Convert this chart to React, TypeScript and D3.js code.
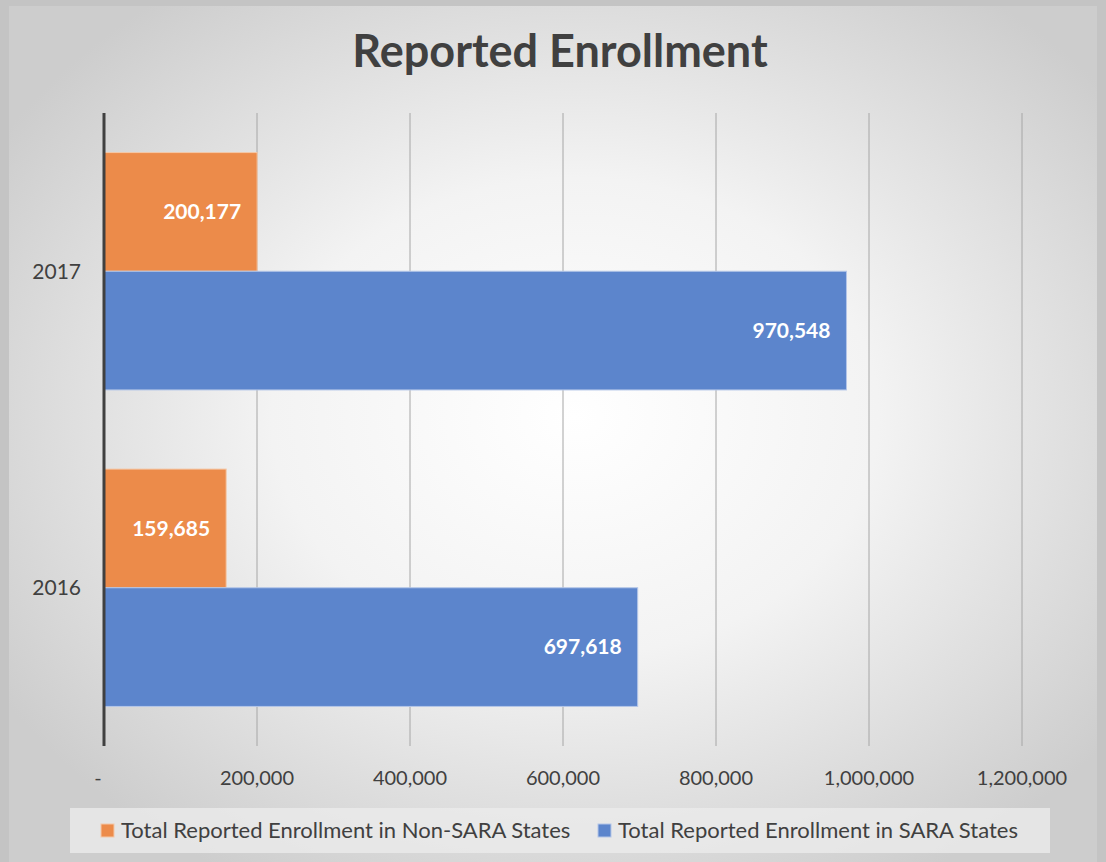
import * as d3 from 'd3';

const years = ['2017', '2016'];
const nonSara = [200177, 159685];
const sara = [970548, 697618];
const seriesNames = ['Total Reported Enrollment in Non-SARA States', 'Total Reported Enrollment in SARA States'];
const xTicks = [0, 200000, 400000, 600000, 800000, 1000000, 1200000];

const W = 1106;
const H = 862;
const FONT = 'Lato, "Open Sans", sans-serif';
const TEXT = '#404040';
const ORANGE = '#EC8B4A';
const BLUE = '#5C85CC';

export default function App() {
  const x = d3.scaleLinear().domain([0, 1200000]).range([104, 1022]);
  const y = d3.scaleBand<string>().domain(years).range([113, 746]).paddingInner(0.25).paddingOuter(0.125);
  const sub = d3.scaleBand<number>().domain([0, 1]).range([0, y.bandwidth()]);
  const fmt = d3.format(',');

  return (
    <div style={{ position: 'absolute', left: 0, top: 0 }}>
      <svg width={W} height={H} style={{ display: 'block' }}>
        <defs>
          <radialGradient id="bg" cx="52%" cy="48%" r="62%">
            <stop offset="0%" stopColor="#ffffff" />
            <stop offset="45%" stopColor="#f3f3f3" />
            <stop offset="100%" stopColor="#cdcdcd" />
          </radialGradient>
        </defs>
        <rect x={0} y={0} width={W} height={H} fill="#c4c4c4" />
        <rect x={9} y={6} width={1088} height={H - 6} fill="url(#bg)" />

        <text x={560} y={67} textAnchor="middle" fontFamily={FONT} fontWeight={700} fontSize={45} fill={TEXT}>
          Reported Enrollment
        </text>

        {xTicks.slice(1).map(t => (
          <line key={t} x1={x(t)} x2={x(t)} y1={113} y2={746} stroke="#a6a6a6" strokeWidth={1} />
        ))}

        {years.map((yr, i) => {
          const y0 = y(yr)!;
          const vals = [nonSara[i], sara[i]];
          return (
            <g key={yr}>
              {vals.map((v, j) => (
                <g key={j}>
                  <rect
                    x={x(0)}
                    y={y0 + sub(j)!}
                    width={x(v) - x(0)}
                    height={sub.bandwidth()}
                    fill={j === 0 ? ORANGE : BLUE}
                    stroke={j === 0 ? '#f4c8a8' : '#b4c6e8'}
                    strokeWidth={1}
                  />
                  <text
                    x={x(v) - 16}
                    y={y0 + sub(j)! + sub.bandwidth() / 2}
                    dy="0.35em"
                    textAnchor="end"
                    fontFamily={FONT}
                    fontWeight={700}
                    fontSize={21}
                    fill="#ffffff"
                  >
                    {fmt(v)}
                  </text>
                </g>
              ))}
              <text x={81} y={y0 + y.bandwidth() / 2} dy="0.35em" textAnchor="end" fontFamily={FONT} fontSize={21} fill={TEXT}>
                {yr}
              </text>
            </g>
          );
        })}

        <line x1={x(0)} x2={x(0)} y1={113} y2={746} stroke="#404040" strokeWidth={3} />

        {xTicks.map(t => (
          <text key={t} x={x(t) - (t === 0 ? 6 : 0)} y={785} textAnchor="middle" fontFamily={FONT} fontSize={20} fill={TEXT}>
            {t === 0 ? '-' : fmt(t)}
          </text>
        ))}

        <rect x={70} y={808} width={980} height={45} fill="#ebebeb" fillOpacity={0.8} />
        {seriesNames.map((name, i) => {
          const lx = i === 0 ? 101 : 598;
          return (
            <g key={name}>
              <rect x={lx} y={824} width={13} height={13} fill={i === 0 ? ORANGE : BLUE} stroke={i === 0 ? '#f4c8a8' : '#b4c6e8'} />
              <text x={lx + 20} y={838} fontFamily={FONT} fontSize={22} fill={TEXT}>
                {name}
              </text>
            </g>
          );
        })}
      </svg>
    </div>
  );
}
